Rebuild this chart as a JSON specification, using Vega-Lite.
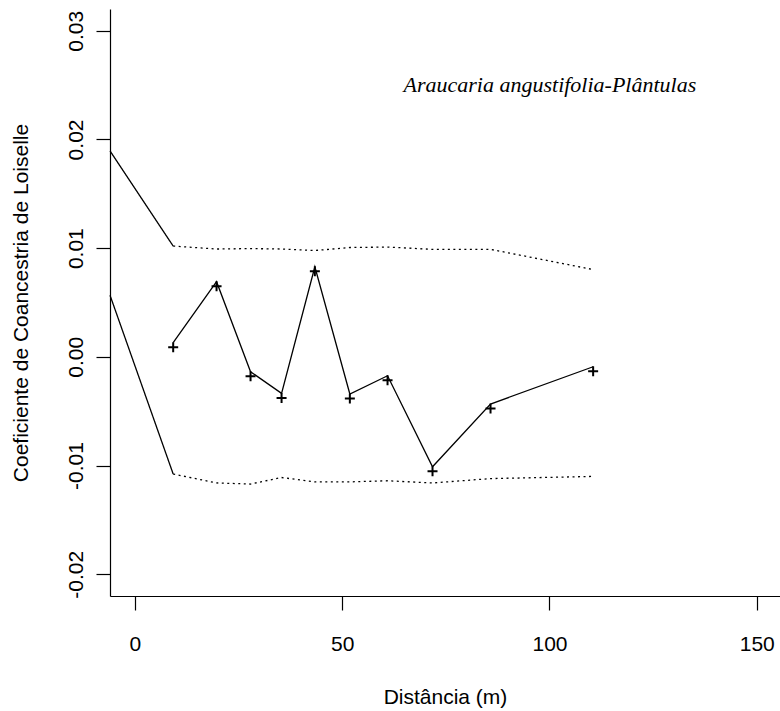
{
  "$schema": "https://vega.github.io/schema/vega-lite/v6.json",
  "autosize": {"type": "none"},
  "width": 670,
  "height": 587,
  "padding": {"left": 110, "top": 9, "right": 0, "bottom": 115},
  "background": "white",
  "config": {
    "view": {"stroke": null},
    "axis": {
      "grid": false,
      "domainColor": "black",
      "domainWidth": 1.2,
      "tickColor": "black",
      "tickWidth": 1.2,
      "tickSize": 14,
      "labelFont": "Liberation Sans",
      "labelFontSize": 21,
      "labelColor": "black",
      "titleFont": "Liberation Sans",
      "titleFontSize": 21,
      "titleFontWeight": "normal",
      "titleColor": "black",
      "labelOverlap": false,
      "labelFlush": false
    }
  },
  "datasets": {
    "env": [
      {"dist": -6, "coef": 0.01895, "series": "upper-a", "kind": "solid"},
      {"dist": 9.24, "coef": 0.01019, "series": "upper-a", "kind": "solid"},
      {"dist": 9.24, "coef": 0.01019, "series": "upper-b", "kind": "dotted"},
      {"dist": 19.7, "coef": 0.00992, "series": "upper-b", "kind": "dotted"},
      {"dist": 27.9, "coef": 0.00996, "series": "upper-b", "kind": "dotted"},
      {"dist": 35.38, "coef": 0.00992, "series": "upper-b", "kind": "dotted"},
      {"dist": 43.41, "coef": 0.00978, "series": "upper-b", "kind": "dotted"},
      {"dist": 51.85, "coef": 0.01006, "series": "upper-b", "kind": "dotted"},
      {"dist": 60.94, "coef": 0.0101, "series": "upper-b", "kind": "dotted"},
      {"dist": 71.79, "coef": 0.00989, "series": "upper-b", "kind": "dotted"},
      {"dist": 85.78, "coef": 0.00989, "series": "upper-b", "kind": "dotted"},
      {"dist": 110.53, "coef": 0.00803, "series": "upper-b", "kind": "dotted"},
      {"dist": -6, "coef": 0.00567, "series": "lower-a", "kind": "solid"},
      {"dist": 9.24, "coef": -0.01078, "series": "lower-a", "kind": "solid"},
      {"dist": 9.24, "coef": -0.01078, "series": "lower-b", "kind": "dotted"},
      {"dist": 19.7, "coef": -0.0116, "series": "lower-b", "kind": "dotted"},
      {"dist": 27.9, "coef": -0.0117, "series": "lower-b", "kind": "dotted"},
      {"dist": 35.38, "coef": -0.0111, "series": "lower-b", "kind": "dotted"},
      {"dist": 43.41, "coef": -0.0115, "series": "lower-b", "kind": "dotted"},
      {"dist": 51.85, "coef": -0.0115, "series": "lower-b", "kind": "dotted"},
      {"dist": 60.94, "coef": -0.0114, "series": "lower-b", "kind": "dotted"},
      {"dist": 71.79, "coef": -0.0116, "series": "lower-b", "kind": "dotted"},
      {"dist": 85.78, "coef": -0.0112, "series": "lower-b", "kind": "dotted"},
      {"dist": 110.53, "coef": -0.0110, "series": "lower-b", "kind": "dotted"}
    ],
    "obs": [
      {"dist": 9.24, "coef": 0.0013},
      {"dist": 19.7, "coef": 0.00691},
      {"dist": 27.9, "coef": -0.00137},
      {"dist": 35.38, "coef": -0.00336},
      {"dist": 43.41, "coef": 0.00829},
      {"dist": 51.85, "coef": -0.00342},
      {"dist": 60.94, "coef": -0.00174},
      {"dist": 71.79, "coef": -0.01011},
      {"dist": 85.78, "coef": -0.00434},
      {"dist": 110.53, "coef": -0.00091}
    ],
    "ann": [
      {"dist": 100.1, "coef": 0.02436, "label": "Araucaria angustifolia-Plântulas"}
    ]
  },
  "layer": [
    {
      "mark": {"type": "rule", "color": "#bebebe", "strokeWidth": 1.3},
      "encoding": {
        "y": {"datum": 0, "type": "quantitative"}
      }
    },
    {
      "mark": {"type": "rule", "color": "black", "strokeWidth": 1.2},
      "encoding": {
        "y": {"datum": 0.032, "type": "quantitative"}
      }
    },
    {
      "data": {"name": "env"},
      "mark": {"type": "line", "color": "black", "strokeWidth": 1.3},
      "encoding": {
        "x": {
          "field": "dist", "type": "quantitative",
          "scale": {"domain": [-6, 155.6], "nice": false, "zero": false},
          "axis": {
            "values": [0, 50, 100, 150],
            "labelAlign": "center",
            "labelBaseline": "alphabetic",
            "labelPadding": 40,
            "title": "Distância (m)",
            "titleBaseline": "alphabetic",
            "titleY": 107
          }
        },
        "y": {
          "field": "coef", "type": "quantitative",
          "scale": {"domain": [-0.022, 0.032], "nice": false, "zero": false},
          "axis": {
            "values": [-0.02, -0.01, 0, 0.01, 0.02, 0.03],
            "labelExpr": "replace(format(datum.value, '.2f'), '\u2212', '-')",
            "labelAngle": -90,
            "labelAlign": "center",
            "labelBaseline": "alphabetic",
            "labelPadding": 14,
            "title": "Coeficiente de Coancestria de Loiselle",
            "titleAngle": -90,
            "titleAlign": "center",
            "titleBaseline": "alphabetic",
            "titleX": -83,
            "titleY": 293.5
          }
        },
        "detail": {"field": "series"},
        "strokeDash": {
          "field": "kind", "type": "nominal",
          "scale": {"domain": ["solid", "dotted"], "range": [[1, 0], [2, 3.5]]},
          "legend": null
        },
        "order": {"field": "dist", "type": "quantitative"}
      }
    },
    {
      "data": {"name": "obs"},
      "mark": {"type": "line", "color": "black", "strokeWidth": 1.3},
      "encoding": {
        "x": {"field": "dist", "type": "quantitative"},
        "y": {"field": "coef", "type": "quantitative"}
      }
    },
    {
      "data": {"name": "obs"},
      "mark": {"type": "point", "shape": "M-1,0L1,0M0,-1L0,1", "filled": false, "stroke": "black", "strokeWidth": 2, "size": 100, "opacity": 1, "yOffset": 4.5},
      "encoding": {
        "x": {"field": "dist", "type": "quantitative"},
        "y": {"field": "coef", "type": "quantitative"}
      }
    },
    {
      "data": {"name": "ann"},
      "mark": {"type": "text", "font": "Liberation Serif", "fontStyle": "italic", "fontSize": 22, "align": "center", "baseline": "alphabetic", "color": "black"},
      "encoding": {
        "x": {"field": "dist", "type": "quantitative"},
        "y": {"field": "coef", "type": "quantitative"},
        "text": {"field": "label"}
      }
    }
  ]
}
